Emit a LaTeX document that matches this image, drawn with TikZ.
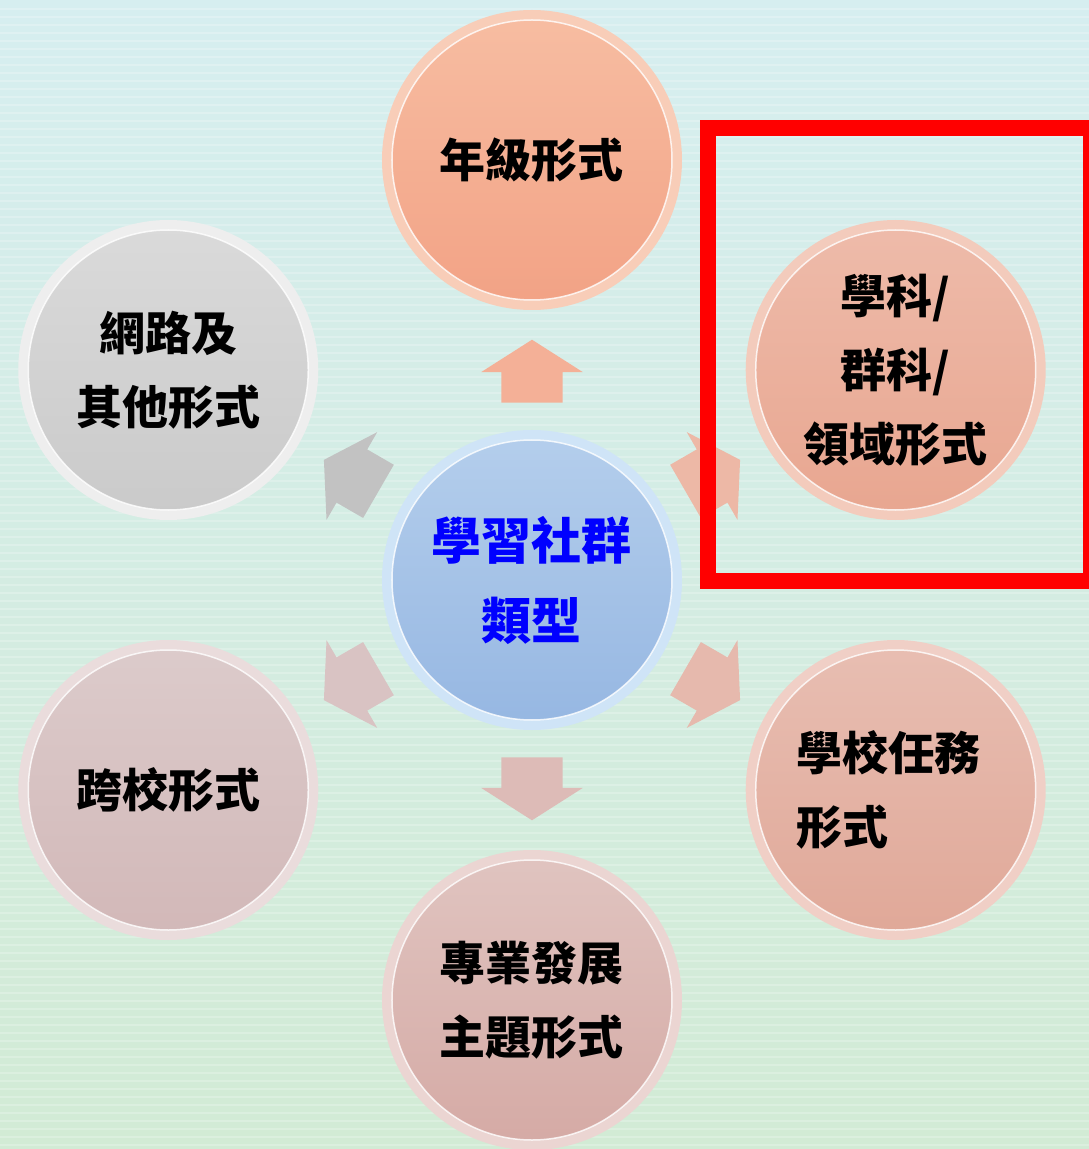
\documentclass[tikz,border=0pt]{standalone}
\usepackage{fontspec}
\setmainfont{Noto Sans CJK TC}
\usetikzlibrary{shapes.arrows}
\definecolor{bgcyan}{HTML}{D6EEF0}
\definecolor{bggreen}{HTML}{D2EBD5}
\definecolor{peachtop}{HTML}{F7BDA2}
\definecolor{peachbot}{HTML}{F2A285}
\definecolor{peachrim}{HTML}{F8CDB8}
\definecolor{salmtop}{HTML}{EEBBAA}
\definecolor{salmbot}{HTML}{E8A690}
\definecolor{salmrim}{HTML}{F3CBBC}
\definecolor{rosetop}{HTML}{E8BEB2}
\definecolor{rosebot}{HTML}{E0A898}
\definecolor{roserim}{HTML}{F0CFC6}
\definecolor{dustytop}{HTML}{E0C4C0}
\definecolor{dustybot}{HTML}{D5AAA5}
\definecolor{dustyrim}{HTML}{EBD5D2}
\definecolor{mauvetop}{HTML}{DCCBCB}
\definecolor{mauvebot}{HTML}{D2B8B8}
\definecolor{mauverim}{HTML}{EADCDC}
\definecolor{greytop}{HTML}{DADADA}
\definecolor{greybot}{HTML}{CACACA}
\definecolor{greyrim}{HTML}{EEEEEE}
\definecolor{greyspoke}{HTML}{C2C2C2}
\definecolor{skytop}{HTML}{B4CEEC}
\definecolor{skybot}{HTML}{96B7E2}
\definecolor{skyrim}{HTML}{CFE4F7}
\tikzstyle{bubble}=[circle, minimum size=290pt, inner sep=0pt, line width=10pt, align=center, font=\fontsize{46}{74}\selectfont\bfseries]
\tikzstyle{spoke}=[single arrow, minimum height=63pt, inner xsep=0pt, inner ysep=30.5pt, single arrow head extend=20pt, single arrow tip angle=115, draw=none]

\begin{document}
\begin{tikzpicture}[x=1pt,y=1pt]
	\useasboundingbox (-532,-569) rectangle (557,580);

	% background
	\fill[top color=bgcyan, bottom color=bggreen] (-532,-569) rectangle (557,580);
	\foreach \y in {-565,-557,...,575}
		\draw[white, opacity=0.22, line width=1.5pt] (-532,\y) -- (557,\y);

	% outer circles
	\node[bubble, top color=peachtop, bottom color=peachbot, draw=peachrim] (grade) at (90:420) {年級形式};
	\node[bubble, top color=salmtop, bottom color=salmbot, draw=salmrim] (subject) at (30:420) {學科/\\群科/\\領域形式};
	\node[bubble, top color=rosetop, bottom color=rosebot, draw=roserim, align=left] (task) at (-30:420) {學校任務\hspace*{14pt}\\形式};
	\node[bubble, top color=dustytop, bottom color=dustybot, draw=dustyrim] (theme) at (-90:420) {專業發展\\主題形式};
	\node[bubble, top color=mauvetop, bottom color=mauvebot, draw=mauverim] (cross) at (-150:420) {跨校形式};
	\node[bubble, top color=greytop, bottom color=greybot, draw=greyrim] (online) at (150:420) {網路及\\其他形式};

	% centre
	\node[bubble, top color=skytop, bottom color=skybot, draw=skyrim, text=blue, font=\fontsize{50}{80}\selectfont\bfseries] (core) at (0,0) {學習社群\\類型};

	\foreach \n in {grade,subject,task,theme,cross,online,core}
		\draw[white, opacity=0.8, line width=1.5pt] (\n.center) circle (140);

	% arrows
	\node[spoke, fill=peachbot!85, rotate=90] (up) at (90:199) {};
	\node[spoke, fill=salmbot!80, rotate=30] (upright) at (30:199) {};
	\node[spoke, fill=rosebot!80, rotate=-30] (downright) at (-30:199) {};
	\node[spoke, fill=dustybot!80, rotate=-90] (down) at (-90:199) {};
	\node[spoke, fill=mauvebot!85, rotate=-150] (downleft) at (-150:199) {};
	\node[spoke, fill=greyspoke, rotate=150] (upleft) at (150:199) {};

	% highlight
	\draw[red, line width=16pt] (175.5,451.5) rectangle (558.5,-1);
\end{tikzpicture}
\end{document}
